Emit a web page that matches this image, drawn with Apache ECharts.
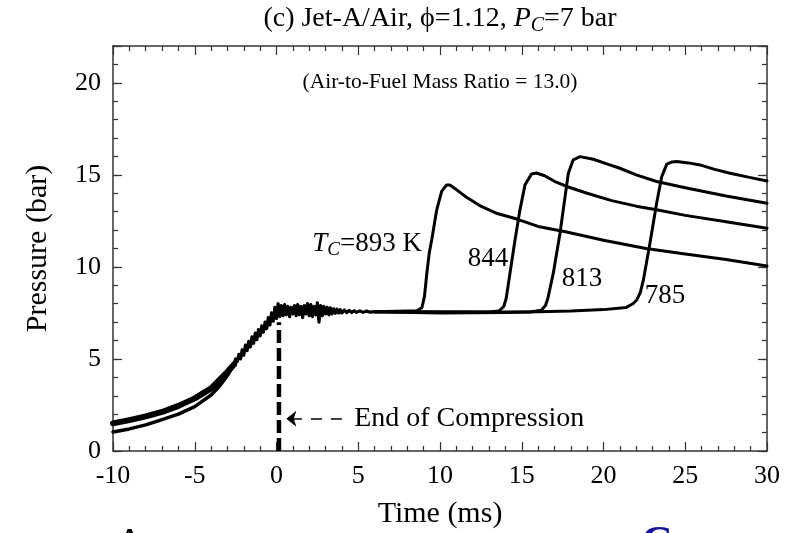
<!DOCTYPE html>
<html>
<head>
<meta charset="utf-8">
<script src="https://cdn.jsdelivr.net/npm/echarts@6/dist/echarts.min.js"></script>
<style>
html,body{margin:0;padding:0;background:#fff;}
#chart{width:785px;height:533px;}
</style>
</head>
<body>
<div id="chart"></div>
<script>
// ---- data (time in ms, pressure in bar) ----
var compressionUpper = [[-10,1.5],[-9,1.68],[-8,1.88],[-7,2.12],[-6,2.45],[-5,2.86],[-4,3.4],[-3,4.3],[-2.6,4.7]];
var compressionLower = [[-10,1.03],[-9,1.2],[-8,1.42],[-7,1.7],[-6,2.0],[-5,2.41],[-4,3.04],[-3.5,3.5],[-3,4.1],[-2.6,4.7]];
var endOfCompressionNoise = [[-2.6,4.7],[-2.5,5.0],[-2.4,4.85],[-2.3,5.25],[-2.2,5.0],[-2.1,5.5],[-2.0,5.2],[-1.9,5.75],[-1.8,5.45],[-1.7,5.95],[-1.6,5.65],[-1.5,6.2],[-1.4,5.85],[-1.3,6.4],[-1.2,6.05],[-1.1,6.6],[-1.0,6.25],[-0.9,6.8],[-0.8,6.45],[-0.7,7.0],[-0.6,6.65],[-0.5,7.25],[-0.4,6.85],[-0.3,7.5],[-0.2,7.05],[-0.1,7.8],[0.0,7.2],[0.1,8.0],[0.2,7.3],[0.3,7.9],[0.4,7.35],[0.5,7.95],[0.6,7.4],[0.7,7.85],[0.8,7.3],[0.9,7.8],[1.0,7.45],[1.1,7.9],[1.2,7.35],[1.3,7.95],[1.4,7.4],[1.5,7.85],[1.6,7.25],[1.7,7.9],[1.8,7.45],[1.9,8.0],[2.0,7.35],[2.1,7.95],[2.2,7.3],[2.3,7.85],[2.4,7.4],[2.5,8.05],[2.6,7.0],[2.7,7.9],[2.8,7.35],[2.9,7.85],[3.0,7.45],[3.1,7.8],[3.2,7.4],[3.3,7.78],[3.4,7.45],[3.5,7.72],[3.6,7.48],[3.7,7.7],[3.8,7.5],[3.9,7.68],[4.0,7.5],[4.15,7.66],[4.3,7.52],[4.45,7.64],[4.6,7.52],[4.75,7.62],[4.9,7.53],[5.1,7.61],[5.3,7.53],[5.5,7.6],[5.75,7.54],[6.0,7.57]];
var trace893 = [[6.0,7.57],[8.0,7.6],[8.6,7.62],[8.9,7.8],[9.05,8.4],[9.2,9.7],[9.35,10.8],[9.5,11.5],[9.8,13.1],[10.1,14.1],[10.4,14.45],[10.6,14.45],[11.0,14.2],[11.6,13.8],[12.5,13.3],[13.5,12.9],[14.7,12.6],[16.0,12.2],[17.75,11.9],[20.0,11.45],[22.6,11.0],[25.0,10.7],[27.5,10.4],[30.0,10.05]];
var trace844 = [[6.0,7.57],[10.0,7.55],[13.0,7.55],[13.6,7.6],[13.9,7.85],[14.05,8.3],[14.28,9.66],[14.59,11.47],[14.89,13.1],[15.2,14.46],[15.6,15.05],[15.9,15.1],[16.4,14.95],[17.0,14.65],[17.75,14.37],[19.0,14.0],[20.5,13.6],[22.0,13.3],[23.25,13.1],[25.0,12.8],[27.5,12.45],[30.0,12.1]];
var trace813 = [[6.0,7.57],[12.0,7.55],[15.5,7.55],[16.2,7.65],[16.45,7.9],[16.6,8.3],[16.93,9.66],[17.34,11.83],[17.65,13.82],[17.85,15.09],[18.15,15.82],[18.56,15.99],[19.38,15.85],[20.2,15.6],[21.0,15.36],[22.0,15.0],[23.25,14.64],[25.0,14.3],[27.5,13.85],[30.0,13.46]];
var trace785 = [[6.0,7.57],[10.0,7.5],[14.0,7.52],[18.0,7.6],[20.0,7.68],[21.4,7.8],[21.8,8.0],[22.03,8.2],[22.25,8.6],[22.44,9.29],[22.84,11.29],[23.25,13.46],[23.56,14.9],[23.87,15.58],[24.2,15.7],[24.48,15.72],[25.2,15.65],[25.9,15.54],[26.8,15.3],[27.74,15.09],[29.0,14.85],[30.0,14.67]];
var endOfCompressionLine = [[0.15,0],[0.15,7.0]];
var arrowLine = [[4.0,1.75],[0.6,1.75]];

var xTicks = {min:-10, max:30, interval:5};
var yTicks = {min:0, max:22, interval:5};

var labels893 = {t:5.54, p:11.25};
var labels844 = {t:12.94, p:10.45};
var labels813 = {t:18.69, p:9.35};
var labels785 = {t:23.76, p:8.4};
var labelEnd = {t:4.75, p:1.75};
var labelRatio = {t:10.0, p:20.05};

var FONT = "'Liberation Serif','Times New Roman',serif";
var AX = '#333';

var chart = echarts.init(document.getElementById('chart'), null, {renderer:'canvas'});

function lineSeries(name, data, width){
  return {name:name, type:'line', data:data, xAxisIndex:0, yAxisIndex:0, showSymbol:false, symbol:'none',
    smooth:false, lineStyle:{color:'#000', width:width, join:'round', cap:'round'}, z:3, silent:true, animation:false};
}

var option = {
  animation:false,
  backgroundColor:'#fff',
  grid:{left:113, right:18, top:46, bottom:82, containLabel:false},
  xAxis:[
    {type:'value', min:xTicks.min, max:xTicks.max, interval:xTicks.interval, position:'bottom',
     axisLine:{show:true, onZero:false, lineStyle:{color:AX, width:1.5}},
     axisTick:{show:true, inside:true, length:9, lineStyle:{color:AX, width:1.2}},
     minorTick:{show:true, splitNumber:5, length:5, lineStyle:{color:AX, width:1.2}},
     axisLabel:{fontFamily:FONT, fontSize:26, color:'#000', margin:12},
     splitLine:{show:false}},
    {type:'value', min:xTicks.min, max:xTicks.max, interval:xTicks.interval, position:'top',
     axisLine:{show:true, onZero:false, lineStyle:{color:AX, width:1.5}},
     axisTick:{show:true, inside:true, length:9, lineStyle:{color:AX, width:1.2}},
     minorTick:{show:true, splitNumber:5, length:5, lineStyle:{color:AX, width:1.2}},
     axisLabel:{show:false}, splitLine:{show:false}}
  ],
  yAxis:[
    {type:'value', min:yTicks.min, max:yTicks.max, interval:yTicks.interval, position:'left',
     axisLine:{show:true, onZero:false, lineStyle:{color:AX, width:1.5}},
     axisTick:{show:true, inside:true, length:9, lineStyle:{color:AX, width:1.2}},
     axisLabel:{fontFamily:FONT, fontSize:26, color:'#000', margin:12,
       formatter:function(v){return (v % 5 === 0) ? String(v) : '';}},
     splitLine:{show:false}},
    {type:'value', min:yTicks.min, max:yTicks.max, interval:1, position:'left',
     axisLine:{show:false, onZero:false}, axisTick:{show:true, inside:true, length:5, lineStyle:{color:AX, width:1.2}},
     axisLabel:{show:false}, splitLine:{show:false}},
    {type:'value', min:yTicks.min, max:yTicks.max, interval:yTicks.interval, position:'right',
     axisLine:{show:true, onZero:false, lineStyle:{color:AX, width:1.5}},
     axisTick:{show:true, inside:true, length:9, lineStyle:{color:AX, width:1.2}},
     axisLabel:{show:false}, splitLine:{show:false}},
    {type:'value', min:yTicks.min, max:yTicks.max, interval:1, position:'right',
     axisLine:{show:false, onZero:false}, axisTick:{show:true, inside:true, length:5, lineStyle:{color:AX, width:1.2}},
     axisLabel:{show:false}, splitLine:{show:false}}
  ],
  series:[
    lineSeries('compression upper', compressionUpper, 6),
    lineSeries('compression lower', compressionLower, 3.5),
    lineSeries('end of compression', endOfCompressionNoise, 3.2),
    lineSeries('893 K', trace893, 3),
    lineSeries('844 K', trace844, 3),
    lineSeries('813 K', trace813, 3),
    lineSeries('785 K', trace785, 3),
    {type:'line', data:endOfCompressionLine, xAxisIndex:0, yAxisIndex:0, showSymbol:false, symbol:'none',
     lineStyle:{color:'#000', width:4.5, type:[13,5]}, z:4, silent:true},
    {type:'line', data:arrowLine, xAxisIndex:0, yAxisIndex:0, showSymbol:false, symbol:'none',
     lineStyle:{color:'#000', width:0, opacity:0}, silent:true,
     markLine:{silent:true, symbol:['none','arrow'], symbolSize:[12,10], label:{show:false},
       lineStyle:{color:'#000', width:1.5, type:[11,9]},
       data:[[{coord:arrowLine[0]},{coord:arrowLine[1]}]]}}
  ]
};
chart.setOption(option);

function px(t,p){ return chart.convertToPixel({xAxisIndex:0, yAxisIndex:0}, [t,p]); }
var pa = px(labels893.t, labels893.p), pb = px(labels844.t, labels844.p), pc = px(labels813.t, labels813.p),
    pd = px(labels785.t, labels785.p), pe = px(labelEnd.t, labelEnd.p), pr = px(labelRatio.t, labelRatio.p);
var plotCenter = px(10, 0)[0];
var plotMiddle = px(0, 11)[1];

function txt(x, y, text, rich, align, size){
  return {type:'text', x:x, y:y, z:10, silent:true,
    style:{text:text, rich:rich||{}, fontFamily:FONT, fontSize:size||26, fill:'#000', align:align||'center', verticalAlign:'middle'}};
}
var subRich = function(big, small, pad){
  return {i:{fontFamily:FONT, fontSize:big, fontStyle:'italic', fill:'#000'},
          s:{fontFamily:FONT, fontSize:small, fontStyle:'italic', fill:'#000', padding:[pad,0,0,0]}};
};
chart.setOption({graphic:[
  txt(plotCenter, 19, '(c) Jet-A/Air, ϕ=1.12, {i|P}{s|C}=7 bar', subRich(28, 20, 13), 'center', 28),
  txt(pr[0], pr[1], '(Air-to-Fuel Mass Ratio = 13.0)', null, 'center', 21.5),
  txt(pa[0], pa[1], '{i|T}{s|C}=893 K', subRich(27, 19, 12), 'center', 27),
  txt(pb[0], pb[1], '844', null, 'center', 27),
  txt(pc[0], pc[1], '813', null, 'center', 27),
  txt(pd[0], pd[1], '785', null, 'center', 27),
  txt(pe[0], pe[1], 'End of Compression', null, 'left', 28),
  txt(plotCenter, 514, 'Time (ms)', null, 'center', 30),
  {type:'text', x:38, y:plotMiddle, rotation:Math.PI/2, z:10, silent:true,
   style:{text:'Pressure (bar)', fontFamily:FONT, fontSize:30, fill:'#000', align:'center', verticalAlign:'middle'}},
  {type:'text', x:130, y:524, silent:true, style:{text:'A', fontFamily:FONT, fontSize:44, fill:'#000', align:'center', verticalAlign:'top'}},
  {type:'text', x:657, y:523, silent:true, style:{text:'C', fontFamily:FONT, fontSize:44, fontWeight:'bold', fill:'#1515a0', align:'center', verticalAlign:'top'}}
]});
</script>
</body>
</html>
